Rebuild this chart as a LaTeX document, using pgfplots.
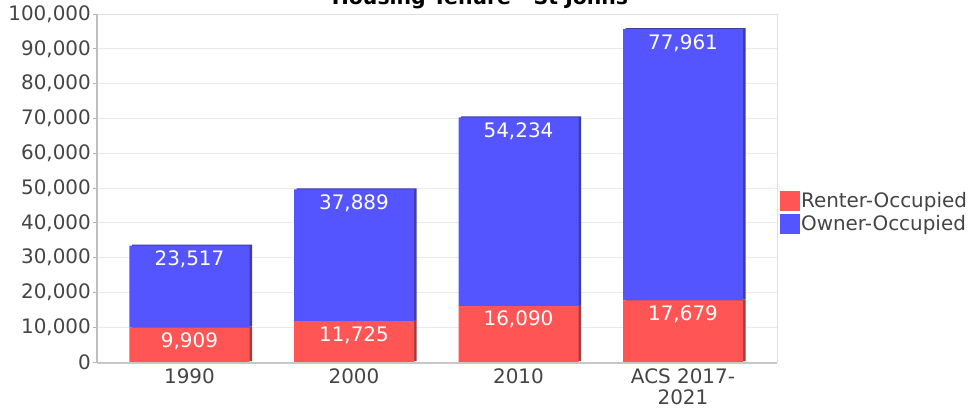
\documentclass[border=0pt]{standalone}
\usepackage{pgfplots}
\pgfplotsset{compat=1.18}
\usepackage{pgfplotstable}
\usepackage{fontspec}
\setmainfont{DejaVu Sans}
\definecolor{rent}{RGB}{255,85,85}
\definecolor{own}{RGB}{85,85,255}
\definecolor{rentd}{RGB}{165,60,60}
\definecolor{ownd}{RGB}{60,60,170}
\definecolor{txt}{RGB}{68,68,68}
\definecolor{gridc}{RGB}{234,234,234}

\pgfplotstableread{
x renter owner
0 9909 23517
1 11725 37889
2 16090 54234
3 17679 77961
}\datatable

\pgfplotsset{
  base/.style={scale only axis, width=680bp, height=348bp,
    xmin=-0.5623, xmax=3.5714, ymin=0, ymax=100000,
    at={(0,0)}, anchor=south west},
  bars/.style={ybar stacked, bar width=120bp},
}
\begin{document}
\begin{tikzpicture}
% frame, grid, ticks, legend
\begin{axis}[base,
  ymajorgrids, grid style={draw=gridc, line width=0.8bp},
  axis line style={draw=black!12, line width=0.8bp},
  xtick={0,1,2,3}, xticklabels={1990,2000,2010,{ACS 2017-\\2021}},
  ytick={0,10000,...,100000}, scaled y ticks=false,
  /pgf/number format/fixed,
  /pgf/number format/1000 sep={,},
  /pgf/number format/assume math mode=true,
  xtick style={draw=none}, ytick style={draw=black!30, line width=0.8bp},
  tick align=outside, ytick pos=left, major tick length=4bp,
  tick label style={font=\fontsize{20}{21}\selectfont, text=txt},
  xticklabel style={align=center, yshift=1bp},
  yticklabel style={inner sep=2bp},
  legend image code/.code={\fill[#1] (0bp,-10bp) rectangle (20bp,10bp);},
  legend cell align=left,
  legend style={at={(1.0045,0.431)}, anchor=west, draw=none, fill=none,
    inner sep=0pt, outer sep=0pt, row sep=3bp,
    nodes={inner sep=1bp, text=txt, font=\fontsize{20}{22}\selectfont}},
]
\addlegendimage{fill=rent, draw=none}
\addlegendentry{Renter-Occupied}
\addlegendimage{fill=own, draw=none}
\addlegendentry{Owner-Occupied}
\end{axis}
% shadow bars
\begin{axis}[base, bars, hide axis, clip=false, at={(2.5bp,1bp)}]
\addplot[fill=rentd, draw=none] table[x=x, y=renter] \datatable;
\addplot[fill=ownd, draw=none] table[x=x, y=owner] \datatable;
\end{axis}
% main bars
\begin{axis}[base, bars, hide axis, clip=false,
  after end axis/.code={
    \draw[black!25, line width=1.2bp] (rel axis cs:0,0) -- (rel axis cs:0,1);
    \draw[black!22, line width=2.2bp] ([yshift=-1.1bp]rel axis cs:0,0) -- ([yshift=-1.1bp]rel axis cs:1,0);
  },
]
\addplot[fill=rent, draw=none] table[x=x, y=renter] \datatable;
\addplot[fill=own, draw=none] table[x=x, y=owner] \datatable;
\end{axis}
% value labels at the top of each segment
\begin{axis}[base, hide axis, clip=false,
  nodes near coords, point meta=explicit,
  /pgf/number format/fixed,
  /pgf/number format/1000 sep={,},
  /pgf/number format/assume math mode=true,
  every node near coord/.append style={anchor=north, text=white,
    font=\fontsize{20}{22}\selectfont, yshift=-3bp, inner sep=2bp},
]
\addplot[draw=none, mark=none, nodes near coords] coordinates {
  (0,9909) [9909] (1,11725) [11725] (2,16090) [16090] (3,17679) [17679]
};
\addplot[draw=none, mark=none, nodes near coords] coordinates {
  (0,33426) [23517] (1,49614) [37889] (2,70324) [54234] (3,95640) [77961]
};
\end{axis}
\node[font=\bfseries\fontsize{20.5}{24}\selectfont, anchor=base] at (383bp,357.5bp) {Housing Tenure - St Johns};
\pgfresetboundingbox
\useasboundingbox (-97bp,-46bp) rectangle (875bp,362bp);
\end{tikzpicture}
\end{document}
